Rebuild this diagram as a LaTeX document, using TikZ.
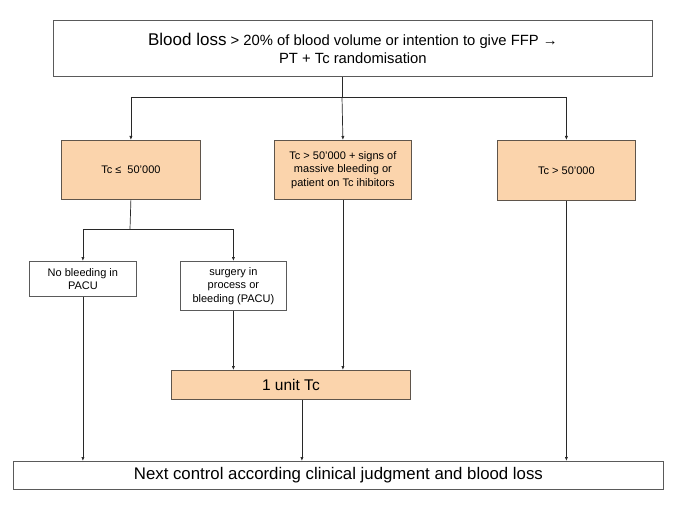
\documentclass[tikz,border=0pt]{standalone}
\usepackage{fontspec}
\setmainfont{Liberation Sans}
\usetikzlibrary{arrows.meta}
\definecolor{peach}{RGB}{251,212,172}
\definecolor{edgeo}{RGB}{95,85,75}
\definecolor{edgew}{RGB}{90,90,90}
\definecolor{linec}{RGB}{40,40,40}
\tikzset{
  wbox/.style={draw=edgew, line width=0.8pt, fill=white, inner sep=0pt, align=center, anchor=north west},
  obox/.style={draw=edgeo, line width=0.8pt, fill=peach, inner sep=0pt, align=center, anchor=north west},
  arr/.style={draw=linec, line width=0.7pt, -{Latex[length=4pt,width=3.2pt]}},
  ln/.style={draw=linec, line width=0.7pt},
  small/.style={font=\fontsize{11}{13.5}\selectfont},
}
\begin{document}
\begin{tikzpicture}[x=1pt,y=-1pt]
\useasboundingbox (0,0) rectangle (685,513);
% top
\node[wbox, minimum width=599pt, minimum height=56pt, font=\fontsize{14.8}{18}\selectfont] (top) at (53,20)
  {{\fontsize{17}{18}\selectfont Blood loss} > 20\% of blood volume or intention to give FFP →\\
   PT + Tc randomisation};
% level 2
\node[obox, small, minimum width=139pt, minimum height=59pt] (b1) at (61,140) {Tc ≤\ \ 50'000};
\node[obox, small, minimum width=137pt, minimum height=59pt] (b2) at (274,140) {Tc > 50'000 + signs of\\massive bleeding or\\patient on Tc ihibitors};
\node[obox, small, minimum width=138pt, minimum height=60pt] (b3) at (497,140) {Tc > 50'000};
% level 3
\node[wbox, small, minimum width=107pt, minimum height=35pt] (nob) at (29,261) {No bleeding in\\PACU};
\node[wbox, small, minimum width=106pt, minimum height=49pt] (surg) at (180,261) {surgery in\\process or\\bleeding (PACU)};
% unit
\node[obox, minimum width=239pt, minimum height=29pt, font=\fontsize{15.5}{18}\selectfont] (unit) at (171,370) {1 unit Tc};
% bottom
\node[wbox, minimum width=650pt, minimum height=28pt, font=\fontsize{16.8}{19}\selectfont] (next) at (13,461) {Next control according clinical judgment and blood loss};
% connectors top
\coordinate (hub) at (342,97);
\draw[ln] (top.south -| hub) -- (hub);
\draw[ln] (hub -| b1.north) -- (hub -| b3.north);
\draw[arr] (hub -| b1.north) -- (b1.north);
\draw[arr] (hub) -- (b2.north);
\draw[arr] (hub -| b3.north) -- (b3.north);
% b1 split
\coordinate (hub2) at (130,229);
\draw[ln] (b1.south) -- (hub2);
\draw[ln] (hub2 -| nob.north) -- (hub2 -| surg.north);
\draw[arr] (hub2 -| nob.north) -- (nob.north);
\draw[arr] (hub2 -| surg.north) -- (surg.north);
% to unit
\draw[arr] (surg.south) -- (surg.south |- unit.north);
\draw[arr] (b2.south) -- (b2.south |- unit.north);
% to next
\draw[arr] (nob.south) -- (nob.south |- next.north);
\draw[arr] ([xshift=11pt]unit.south) -- ([xshift=11pt]unit.south |- next.north);
\draw[arr] (b3.south) -- (b3.south |- next.north);
\end{tikzpicture}
\end{document}
